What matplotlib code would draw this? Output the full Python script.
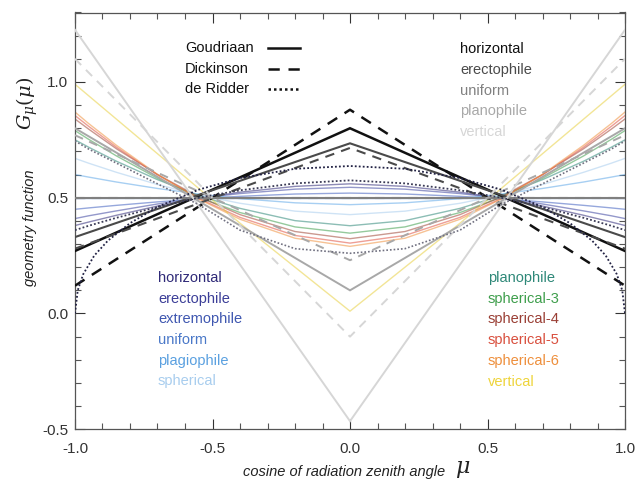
import numpy as np
import matplotlib
matplotlib.use("Agg")
import matplotlib.pyplot as plt
from matplotlib.ticker import MultipleLocator

plt.rcParams['font.family'] = ['Liberation Sans', 'DejaVu Sans']
plt.rcParams['mathtext.fontset'] = 'dejavuserif'

# ---------------- data ----------------
# straight-line approximations: value at mu=0 and at |mu|=1
approx_names = ["horizontal", "erectophile", "uniform", "planophile", "vertical"]
goudriaan_mu0 = [0.80, 0.735, 0.50, 0.10, -0.465]
goudriaan_mu1 = [0.27, 0.33, 0.50, 0.80, 1.225]
dickinson_mu0 = [0.88, 0.715, 0.50, 0.23, -0.10]
dickinson_mu1 = [0.12, 0.28, 0.50, 0.77, 1.10]

# de Ridder curves (|mu| grid)
ridder_mu_a = [0.0, 0.2, 0.4, 0.55, 0.7, 0.8, 0.88, 0.93, 0.97, 0.99, 1.0]
ridder_a = [0.637, 0.625, 0.585, 0.535, 0.46, 0.39, 0.315, 0.25, 0.17, 0.10, 0.0]
ridder_mu_b = [0.0, 0.2, 0.4, 0.55, 0.7, 0.85, 0.95, 1.0]
ridder_b = [0.575, 0.562, 0.532, 0.50, 0.46, 0.413, 0.379, 0.36]
ridder_c = [0.26, 0.28, 0.36, 0.47, 0.56, 0.65, 0.71, 0.745]

# exact G-functions for leaf angle distributions (|mu| grid)
mu_grid = [0.0, 0.2, 0.4, 0.55, 0.7, 0.85, 0.95, 1.0]
lad_names = ["horizontal", "erectophile", "extremophile", "uniform", "plagiophile",
             "spherical", "planophile", "spherical-3", "spherical-4", "spherical-5",
             "spherical-6", "vertical"]
g_horizontal   = [0.56, 0.549, 0.524, 0.497, 0.464, 0.424, 0.395, 0.38]
g_erectophile  = [0.545, 0.537, 0.518, 0.498, 0.473, 0.443, 0.422, 0.41]
g_extremophile = [0.52, 0.516, 0.506, 0.495, 0.482, 0.467, 0.456, 0.45]
g_uniform      = [0.50, 0.50, 0.50, 0.50, 0.50, 0.50, 0.50, 0.50]
g_plagiophile  = [0.47, 0.478, 0.496, 0.516, 0.54, 0.568, 0.589, 0.60]
g_spherical    = [0.427, 0.442, 0.476, 0.512, 0.557, 0.61, 0.649, 0.67]
g_planophile   = [0.379, 0.401, 0.454, 0.509, 0.578, 0.658, 0.718, 0.75]
g_spherical3   = [0.347, 0.374, 0.436, 0.502, 0.584, 0.681, 0.752, 0.79]
g_spherical4   = [0.323, 0.354, 0.427, 0.504, 0.60, 0.712, 0.796, 0.84]
g_spherical5   = [0.304, 0.337, 0.415, 0.497, 0.599, 0.719, 0.808, 0.855]
g_spherical6   = [0.29, 0.325, 0.407, 0.494, 0.601, 0.727, 0.82, 0.87]
g_vertical     = [0.01, 0.20, 0.39, 0.54, 0.69, 0.84, 0.94, 0.99]

# ---------------- styles ----------------
gray_shades = ["#111111", "#4a4a4a", "#808080", "#a8a8a8", "#d6d6d6"]
lad_colors = ["#2f2a78", "#3c44a0", "#4060c0", "#4a80d0", "#60a8e8", "#a8cdee",
              "#2e8878", "#3e9e4c", "#a04535", "#e0503f", "#f0903c", "#e8d040"]
lad_text_colors = ["#2f2a78", "#3c3f98", "#3f57b0", "#4a78c8", "#5aa0e0", "#a8cdee",
                   "#2e8878", "#3e9e4c", "#9a3f35", "#d9503f", "#ee8f3c", "#eed43c"]

def mirror(mu, vals):
    mu = np.asarray(mu, float)
    vals = np.asarray(vals, float)
    x = np.concatenate([-mu[::-1], mu[1:]])
    y = np.concatenate([vals[::-1], vals[1:]])
    return x, y

fig = plt.figure(figsize=(6.36, 4.82), dpi=100)
ax = fig.add_axes([75/636, 1-429.25/482, 550/636, 416.75/482])

lad_data = [g_horizontal, g_erectophile, g_extremophile, g_uniform, g_plagiophile,
            g_spherical, g_planophile, g_spherical3, g_spherical4, g_spherical5,
            g_spherical6, g_vertical]
for vals, c in zip(lad_data, lad_colors):
    x, y = mirror(mu_grid, vals)
    ax.plot(x, y, color=c, lw=1.0, alpha=0.55, zorder=2)

# Goudriaan (solid) & Dickinson (dashed)
lws = [1.8, 1.5, 1.5, 1.4, 1.4]
for i in range(5):
    x, y = mirror([0, 1], [goudriaan_mu0[i], goudriaan_mu1[i]])
    ax.plot(x, y, color=gray_shades[i], lw=lws[i], zorder=4, solid_joinstyle='miter')
    x, y = mirror([0, 1], [dickinson_mu0[i], dickinson_mu1[i]])
    ax.plot(x, y, color=gray_shades[i], lw=lws[i], ls=(0, (4.5, 3.5)), zorder=4)

# de Ridder (dotted)
x, y = mirror(ridder_mu_a, ridder_a)
ax.plot(x, y, color="#222244", lw=1.3, ls=(0, (1, 1.2)), zorder=4)
x, y = mirror(ridder_mu_b, ridder_b)
ax.plot(x, y, color="#3a3a55", lw=1.3, ls=(0, (1, 1.2)), zorder=4)
x, y = mirror(ridder_mu_b, ridder_c)
ax.plot(x, y, color="#707080", lw=1.2, ls=(0, (1, 1.2)), zorder=4)

ax.set_xlim(-1.0, 1.0)
ax.set_ylim(-0.5, 1.3)
ax.xaxis.set_major_locator(MultipleLocator(0.5))
ax.xaxis.set_minor_locator(MultipleLocator(0.1))
ax.yaxis.set_major_locator(MultipleLocator(0.5))
ax.yaxis.set_minor_locator(MultipleLocator(0.1))
ax.tick_params(which='both', direction='in', top=True, right=True, color='#555555', width=0.8)
ax.tick_params(which='major', length=7, labelsize=11, colors='#333333')
ax.tick_params(which='minor', length=4)
ax.tick_params(axis='x', which='major', pad=9)
ax.tick_params(axis='y', which='major', pad=5)
ax.set_xticks([-1.0, -0.5, 0.0, 0.5, 1.0])
ax.set_xticklabels(["-1.0", "-0.5", "0.0", "0.5", "1.0"])
ax.set_yticks([-0.5, 0.0, 0.5, 1.0])
ax.set_yticklabels(["-0.5", "0.0", "0.5", "1.0"])
for s in ax.spines.values():
    s.set_color('#555555')
    s.set_linewidth(0.9)

# axis labels
fig.text(30/636, 1-228/482, "geometry function", rotation=90, ha='center', va='center',
         fontsize=10.5, style='italic', color='#222222')
fig.text(27/636, 1-103/482, r"$G_{\mu}(\mu)$", rotation=90, ha='center', va='center',
         fontsize=14, color='#222222')
fig.text(344/636, 1-472/482, "cosine of radiation zenith angle", ha='center', va='center',
         fontsize=10.5, style='italic', color='#222222')
fig.text(463/636, 1-469/482, r"$\mu$", ha='center', va='center', fontsize=16, color='#222222')

def ay(py):
    return (429.25 - py) / 416.75
def axx(px):
    return (px - 75) / 550

# top-left legend
ls_styles = ['-', (0, (4.5, 3.5)), (0, (1, 1.2))]
for lab, py, lsty in zip(["Goudriaan", "Dickinson", "de Ridder"], [48, 69, 89], ls_styles):
    ax.text(axx(185), ay(py), lab, transform=ax.transAxes, ha='left', va='center',
            fontsize=10.5, color='#111111')
    ax.plot([axx(268), axx(300)], [ay(py), ay(py)], transform=ax.transAxes,
            color='#111111', lw=1.8, ls=lsty)

# top-right legend
for i, lab in enumerate(approx_names):
    ax.text(axx(460), ay(49 + i * 20.8), lab, transform=ax.transAxes, ha='left', va='center',
            fontsize=10.5, color=gray_shades[i])

# bottom legends
for i in range(6):
    ax.text(axx(158), ay(278 + i * 20.7), lad_names[i], transform=ax.transAxes,
            ha='left', va='center', fontsize=10.5, color=lad_text_colors[i])
    ax.text(axx(488), ay(278 + i * 20.7), lad_names[i + 6], transform=ax.transAxes,
            ha='left', va='center', fontsize=10.5, color=lad_text_colors[i + 6])

fig.savefig("out.png", dpi=100)
